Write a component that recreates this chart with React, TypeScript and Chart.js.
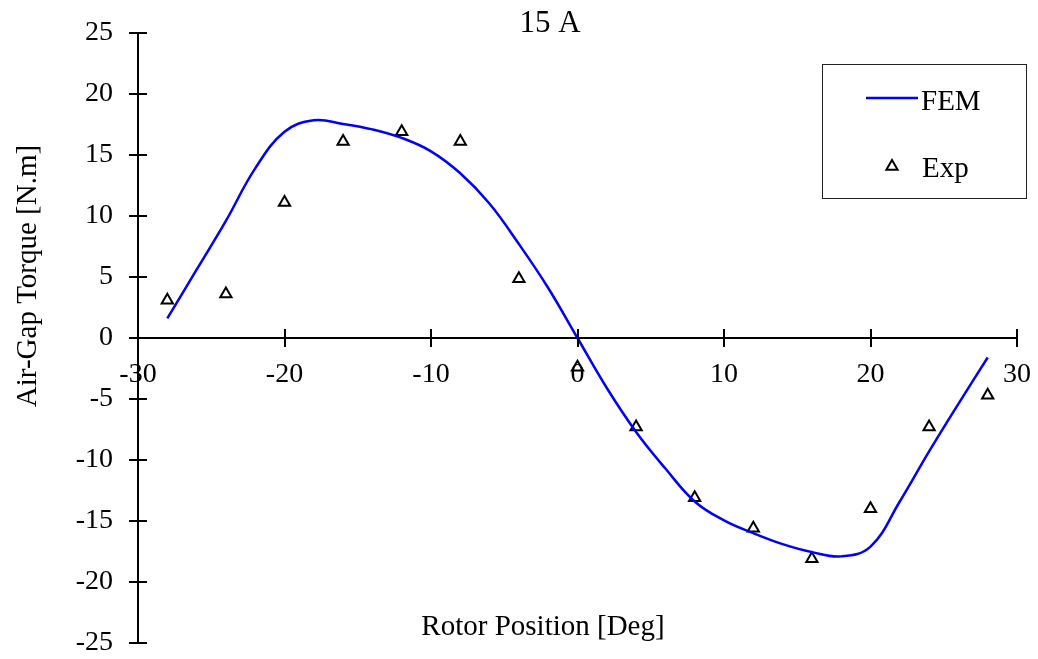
import React, { useEffect, useRef } from "react";
import { Chart, registerables } from "chart.js";

Chart.register(...registerables);

// Chart text
const chartTitle = "15 A";
const xAxisTitle = "Rotor Position [Deg]";
const yAxisTitle = "Air-Gap Torque [N.m]";

// FEM torque curve (deg, N.m)
const femAngles = [-28, -26, -24, -22, -20, -18, -16, -14, -12, -10, -8, -6, -4, -2, 0, 2, 4, 6, 8, 10, 12, 14, 16, 18, 20, 22, 24, 26, 28];
const femTorque = [1.6, 5.6, 9.6, 13.9, 16.9, 17.85, 17.55, 17.1, 16.4, 15.3, 13.5, 11.0, 7.7, 4.1, 0, -4.1, -7.7, -10.7, -13.4, -14.95, -16.0, -16.9, -17.55, -17.9, -17.1, -13.4, -9.3, -5.4, -1.6];

// Measured torque (deg, N.m)
const expAngles = [-28, -24, -20, -16, -12, -8, -4, 0, 4, 8, 12, 16, 20, 24, 28];
const expTorque = [3.1, 3.6, 11.1, 16.1, 16.9, 16.1, 4.85, -2.4, -7.3, -13.1, -15.6, -18.1, -14.0, -7.3, -4.7];

// Axis ticks
const xTickValues = [-30, -20, -10, 0, 10, 20, 30];
const yTickValues = [-25, -20, -15, -10, -5, 0, 5, 10, 15, 20, 25];

const SERIF = '"Liberation Serif", "Times New Roman", Times, serif';
const BLUE = "#0000FF";

// Tick marks that cross both axes
const crossTicks = {
  id: "crossTicks",
  afterDatasetsDraw(chart: any) {
    const { ctx, chartArea } = chart;
    const xs = chart.scales.x;
    const ys = chart.scales.y;
    const y0 = ys.getPixelForValue(0);
    ctx.save();
    ctx.strokeStyle = "#000";
    ctx.lineWidth = 2;
    ctx.beginPath();
    xs.ticks.forEach((t: any) => {
      const px = Math.round(xs.getPixelForValue(t.value));
      ctx.moveTo(px, y0 - 9);
      ctx.lineTo(px, y0 + 9);
    });
    ys.ticks.forEach((t: any) => {
      const py = Math.round(ys.getPixelForValue(t.value));
      ctx.moveTo(chartArea.left - 9, py);
      ctx.lineTo(chartArea.left + 9, py);
    });
    ctx.stroke();
    ctx.restore();
  },
};

// Title, axis titles and the boxed legend
const annotations = {
  id: "annotations",
  afterDraw(chart: any) {
    const { ctx } = chart;
    ctx.save();
    ctx.fillStyle = "#000";
    ctx.textBaseline = "alphabetic";

    ctx.font = `31px ${SERIF}`;
    ctx.textAlign = "center";
    ctx.fillText(chartTitle, 550, 32);

    ctx.font = `29px ${SERIF}`;
    ctx.fillText(xAxisTitle, 543, 635);

    ctx.save();
    ctx.translate(36, 276);
    ctx.rotate(-Math.PI / 2);
    ctx.fillText(yAxisTitle, 0, 0);
    ctx.restore();

    // legend box
    ctx.strokeStyle = "#222";
    ctx.lineWidth = 1;
    ctx.strokeRect(822.5, 64.5, 204, 134);

    const [fem, exp] = chart.data.datasets;
    ctx.strokeStyle = fem.borderColor;
    ctx.lineWidth = fem.borderWidth;
    ctx.beginPath();
    ctx.moveTo(866, 98);
    ctx.lineTo(918, 98);
    ctx.stroke();

    ctx.fillStyle = "#000";
    ctx.textAlign = "left";
    ctx.font = `29px ${SERIF}`;
    ctx.fillText(fem.label, 921, 110);

    // triangle marker like the Exp points
    const r = exp.pointRadius;
    const cx = 892;
    const cy = 166.5;
    ctx.strokeStyle = exp.pointBorderColor;
    ctx.lineWidth = exp.pointBorderWidth;
    ctx.beginPath();
    ctx.moveTo(cx, cy - r);
    ctx.lineTo(cx + Math.sin((2 * Math.PI) / 3) * r, cy - Math.cos((2 * Math.PI) / 3) * r);
    ctx.lineTo(cx + Math.sin((4 * Math.PI) / 3) * r, cy - Math.cos((4 * Math.PI) / 3) * r);
    ctx.closePath();
    ctx.stroke();
    ctx.fillText(exp.label, 922, 177);

    ctx.restore();
  },
};

export default function App() {
  const canvasRef = useRef<HTMLCanvasElement | null>(null);

  useEffect(() => {
    const canvas = canvasRef.current;
    if (!canvas) return;

    const chart = new Chart(canvas, {
      type: "scatter",
      data: {
        datasets: [
          {
            label: "FEM",
            data: femAngles.map((a, i) => ({ x: a, y: femTorque[i] })),
            showLine: true,
            borderColor: BLUE,
            backgroundColor: BLUE,
            borderWidth: 2.5,
            pointRadius: 0,
            tension: 0.4,
          },
          {
            label: "Exp",
            data: expAngles.map((a, i) => ({ x: a, y: expTorque[i] })),
            showLine: false,
            pointStyle: "triangle",
            pointRadius: 6.5,
            pointBorderWidth: 2,
            pointBorderColor: "#000",
            pointBackgroundColor: "rgba(0,0,0,0)",
          },
        ],
      },
      options: {
        responsive: false,
        animation: false,
        layout: { padding: { left: 0, top: 33, right: 21, bottom: 16 } },
        plugins: {
          legend: { display: false },
          title: { display: false },
          tooltip: { enabled: false },
        },
        scales: {
          x: {
            type: "linear",
            position: { y: 0 } as any,
            min: -30,
            max: 30,
            afterBuildTicks: (s: any) => {
              s.ticks = xTickValues.map((v) => ({ value: v }));
            },
            afterFit: (s: any) => {
              s.paddingLeft = 0;
              s.paddingRight = 0;
              s.paddingTop = 0;
              s.paddingBottom = 0;
            },
            grid: { display: false, drawTicks: false },
            border: { display: true, color: "#000", width: 2 },
            ticks: {
              autoSkip: false,
              maxRotation: 0,
              padding: 20,
              color: "#000",
              font: { family: SERIF, size: 28 },
            },
          },
          y: {
            type: "linear",
            position: "left",
            min: -25,
            max: 25,
            afterBuildTicks: (s: any) => {
              s.ticks = yTickValues.map((v) => ({ value: v }));
            },
            afterFit: (s: any) => {
              s.width = 138;
              s.paddingTop = 0;
              s.paddingBottom = 0;
              s.paddingLeft = 0;
              s.paddingRight = 0;
            },
            grid: { display: false, drawTicks: false },
            border: { display: true, color: "#000", width: 2 },
            ticks: {
              autoSkip: false,
              padding: 25,
              color: "#000",
              font: { family: SERIF, size: 28 },
            },
          },
        },
      },
      plugins: [crossTicks, annotations],
    });

    return () => chart.destroy();
  }, []);

  return (
    <div style={{ position: "fixed", left: 0, top: 0, width: 1038, height: 659, background: "#fff" }}>
      <canvas ref={canvasRef} width={1038} height={659} style={{ display: "block" }} />
    </div>
  );
}
